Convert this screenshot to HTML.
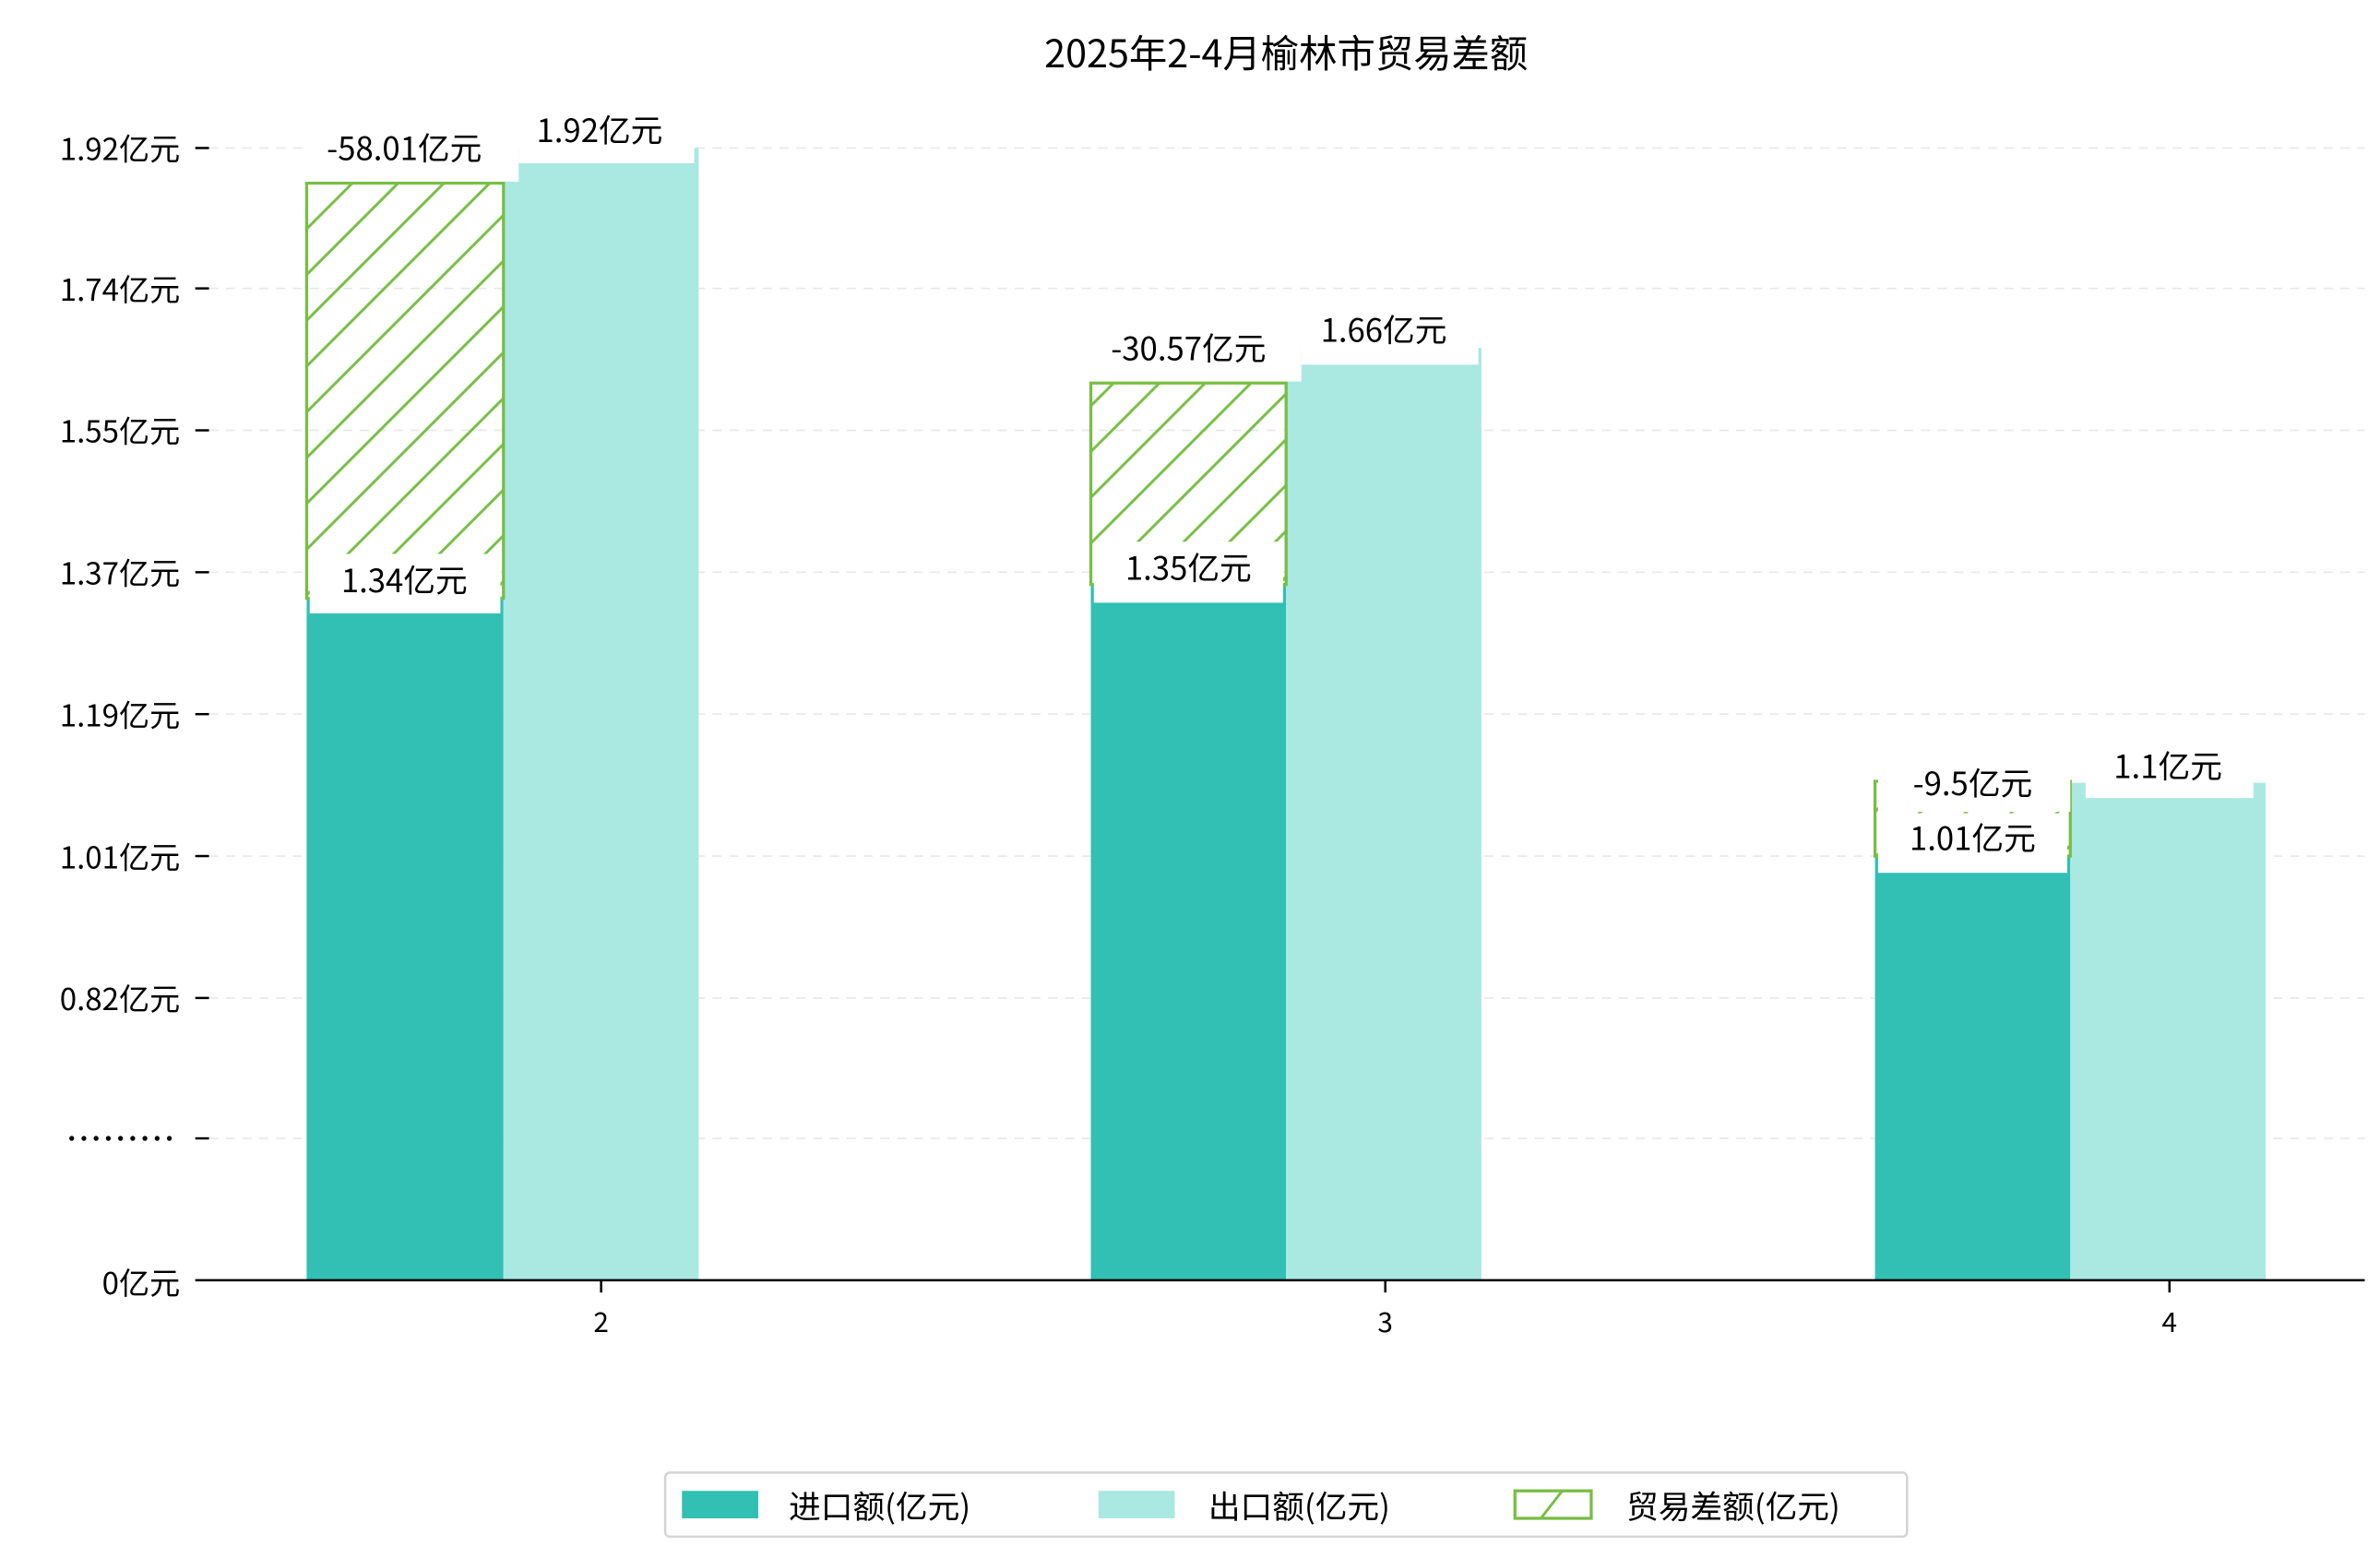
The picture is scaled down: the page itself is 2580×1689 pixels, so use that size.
<!DOCTYPE html>
<html><head><meta charset="utf-8"><style>
html,body{margin:0;padding:0;background:#fff}
svg{display:block}
text{font-family:"WenQuanYi Zen Hei","Noto Sans CJK SC",sans-serif;fill:#000}
</style></head><body>
<svg width="2580" height="1689" viewBox="0 0 1560 1021" preserveAspectRatio="none" xmlns="http://www.w3.org/2000/svg">
<defs>
<pattern id="h" patternUnits="userSpaceOnUse" width="30" height="30" patternTransform="translate(201,0)">
<path d="M-5,35 L35,-5 M-35,35 L35,-35 M-5,65 L65,-5" stroke="#78be45" stroke-width="1.8"/>
</pattern>
</defs>
<text x="843" y="44" font-size="25" text-anchor="middle">2025年2-4月榆林市贸易差额</text>
<g stroke="#e8e8e8" stroke-width="1" stroke-dasharray="6,5">
<line x1="137" x2="1550" y1="97" y2="97"/><line x1="137" x2="1550" y1="189" y2="189"/>
<line x1="137" x2="1550" y1="282" y2="282"/><line x1="137" x2="1550" y1="375" y2="375"/>
<line x1="137" x2="1550" y1="468" y2="468"/><line x1="137" x2="1550" y1="561" y2="561"/>
<line x1="137" x2="1550" y1="654" y2="654"/><line x1="137" x2="1550" y1="746" y2="746"/>
</g>
<g stroke="#000" stroke-width="1.5">
<line x1="128" x2="137" y1="97" y2="97"/><line x1="128" x2="137" y1="189" y2="189"/>
<line x1="128" x2="137" y1="282" y2="282"/><line x1="128" x2="137" y1="375" y2="375"/>
<line x1="128" x2="137" y1="468" y2="468"/><line x1="128" x2="137" y1="561" y2="561"/>
<line x1="128" x2="137" y1="654" y2="654"/><line x1="128" x2="137" y1="746" y2="746"/>
<line x1="394" x2="394" y1="839" y2="847"/><line x1="908" x2="908" y1="839" y2="847"/><line x1="1422" x2="1422" y1="839" y2="847"/>
</g>
<g font-size="20" text-anchor="end">
<text x="118" y="105">1.92亿元</text><text x="118" y="197">1.74亿元</text>
<text x="118" y="290">1.55亿元</text><text x="118" y="383">1.37亿元</text>
<text x="118" y="476">1.19亿元</text><text x="118" y="569">1.01亿元</text>
<text x="118" y="662">0.82亿元</text>
<text x="118" y="848">0亿元</text>
</g>
<g fill="#000">
<circle cx="47" cy="746" r="1.6"/><circle cx="55" cy="746" r="1.6"/><circle cx="63" cy="746" r="1.6"/>
<circle cx="71" cy="746" r="1.6"/><circle cx="79" cy="746" r="1.6"/><circle cx="87" cy="746" r="1.6"/>
<circle cx="95" cy="746" r="1.6"/><circle cx="103" cy="746" r="1.6"/><circle cx="111" cy="746" r="1.6"/>
</g>
<g font-size="18" text-anchor="middle"><text x="394" y="873">2</text><text x="908" y="873">3</text><text x="1422" y="873">4</text></g>
<rect x="201" y="392" width="129" height="447" fill="#31c0b3"/>
<rect x="330" y="97" width="128" height="742" fill="#aae8e2"/>
<rect x="715" y="383" width="128" height="456" fill="#31c0b3"/>
<rect x="843" y="228" width="128" height="611" fill="#aae8e2"/>
<rect x="1229" y="561" width="128" height="278" fill="#31c0b3"/>
<rect x="1357" y="513" width="128" height="326" fill="#aae8e2"/>
<rect x="201" y="120" width="129" height="272" fill="url(#h)" stroke="#78be45" stroke-width="2"/>
<rect x="715" y="251" width="128" height="132" fill="url(#h)" stroke="#78be45" stroke-width="2"/>
<rect x="1229" y="512" width="128" height="49" fill="url(#h)" stroke="#78be45" stroke-width="2"/>
<line x1="128" x2="1550" y1="839" y2="839" stroke="#000" stroke-width="1.5"/>
<g fill="#fff">
<rect x="198" y="82" width="142" height="37"/><rect x="203" y="363" width="125" height="39"/><rect x="340" y="70" width="115" height="37"/>
<rect x="712" y="213" width="141" height="37"/><rect x="717" y="355" width="124" height="40"/><rect x="853" y="200" width="116" height="39"/>
<rect x="1231" y="497" width="126" height="35"/><rect x="1231" y="533" width="124" height="39"/><rect x="1367" y="486" width="110" height="37"/>
</g>
<g font-size="21" text-anchor="middle">
<text x="265" y="105">-58.01亿元</text><text x="265" y="388">1.34亿元</text><text x="393" y="93">1.92亿元</text>
<text x="779" y="236">-30.57亿元</text><text x="779" y="380">1.35亿元</text><text x="907" y="224">1.66亿元</text>
<text x="1293" y="521">-9.5亿元</text><text x="1293" y="557">1.01亿元</text><text x="1421" y="510">1.1亿元</text>
</g>
<rect x="436" y="965" width="814" height="42" rx="3" fill="#fff" stroke="#d4d4d4" stroke-width="1.5"/>
<rect x="447" y="977" width="50" height="18" fill="#31c0b3"/>
<text x="517" y="995" font-size="21">进口额(亿元)</text>
<rect x="720" y="977" width="50" height="18" fill="#aae8e2"/>
<text x="792" y="995" font-size="21">出口额(亿元)</text>
<rect x="993" y="977" width="50" height="18" fill="#fff" stroke="#78be45" stroke-width="2"/>
<line x1="1010" y1="995" x2="1024" y2="977" stroke="#78be45" stroke-width="1.8"/>
<text x="1066" y="995" font-size="21">贸易差额(亿元)</text>
</svg>
</body></html>
